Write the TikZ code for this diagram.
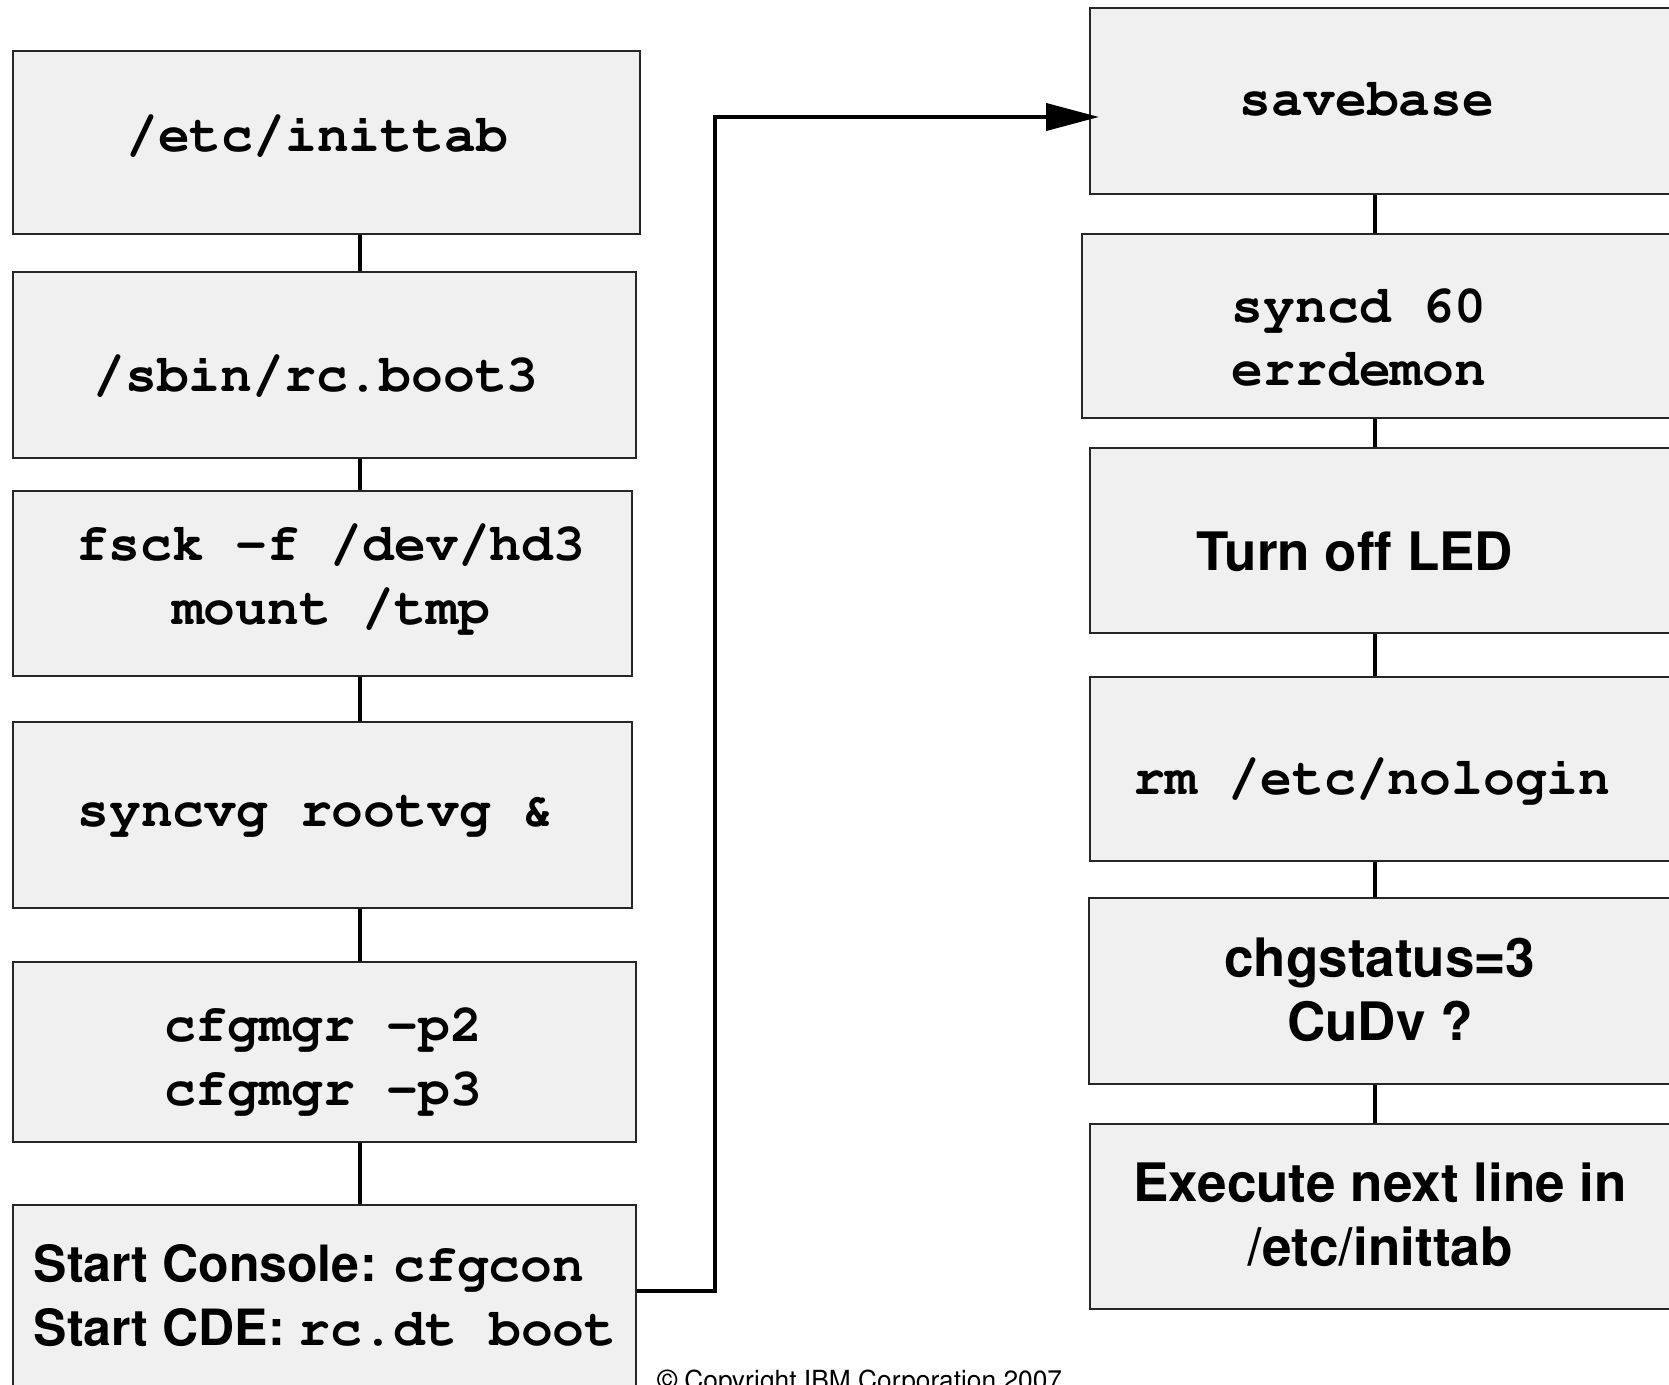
\documentclass[tikz,border=0pt]{standalone}
\usepackage[T1]{fontenc}
\usepackage{tikz}
\usetikzlibrary{arrows.meta}

\definecolor{boxgray}{HTML}{F0F0F0}
\newcommand{\cmdfont}{\fontfamily{pcr}\fontseries{b}\selectfont}
\newcommand{\headfont}{\fontfamily{phv}\fontseries{b}\selectfont}

\begin{document}
\begin{tikzpicture}[x=0.3pt,y=-0.3pt,
    box/.style 2 args={draw=black!85,line width=0.5pt,fill=boxgray,anchor=north west,
        inner sep=0pt,minimum width=#1*0.3pt,minimum height=#2*0.3pt},
    cmd/.style={font=\fontsize{15.9}{19.1}\selectfont\cmdfont,inner sep=0pt,anchor=base,align=center},
    head/.style={font=\fontsize{15.9}{19.1}\selectfont\headfont,inner sep=0pt,anchor=base,align=center},
    link/.style={line width=1pt},
    flow/.style={line width=1.2pt,-{Triangle[length=15.9pt,width=8.1pt]}}]
    \path[use as bounding box] (0,0) rectangle (1669,1384);
    \clip (0,0) rectangle (1669,1384);

    % left column
    \node[box={627}{183}] (inittab) at (12,50) {};
    \node[box={623}{186}] (rcboot) at (12,271) {};
    \node[box={619}{185}] (fsck) at (12,490) {};
    \node[box={619}{186}] (syncvg) at (12,721) {};
    \node[box={623}{180}] (cfgmgr) at (12,961) {};
    \node[box={623}{190}] (console) at (12,1204) {};

    % multi-line texts sit on the baseline of their last line
    \node[cmd] (inittab-t) at (317,152) {/etc/inittab};
    \node[cmd] (rcboot-t) at (316,392) {/sbin/rc.boot3};
    \node[cmd] (fsck-t) at (331,624) {fsck -f /dev/hd3\\mount /tmp};
    \node[cmd] (syncvg-t) at (316,826) {syncvg rootvg \&};
    \node[cmd] (cfgmgr-t) at (323,1105) {cfgmgr -p2\\cfgmgr -p3};
    \node[head,font=\fontsize{15}{19.1}\selectfont\headfont,anchor=base west,align=left] (console-t) at (33,1345)
        {Start Console: {\fontsize{15.9}{19.1}\cmdfont cfgcon}\\Start CDE: {\fontsize{15.9}{19.1}\cmdfont rc.dt boot}};

    % right column
    \node[box={640}{186}] (savebase) at (1089,7) {};
    \node[box={648}{184}] (syncd) at (1081,233) {};
    \node[box={640}{185}] (led) at (1089,447) {};
    \node[box={640}{184}] (nologin) at (1089,676) {};
    \node[box={640}{186}] (chgstatus) at (1088,897) {};
    \node[box={640}{185}] (nextline) at (1089,1123) {};

    \node[cmd] (savebase-t) at (1367,116) {savebase};
    \node[cmd] (syncd-t) at (1359,386) {syncd 60\\errdemon};
    \node[head] (led-t) at (1355,570) {Turn off LED};
    \node[cmd] (nologin-t) at (1372,794) {rm /etc/nologin};
    \node[head] (chgstatus-t) at (1380,1040) {chgstatus=3\\CuDv ?};
    \node[head] (nextline-t) at (1380,1265) {Execute next line in\\/etc/inittab};

    \node[anchor=base west,inner sep=0pt,font=\fontsize{7.9}{9.5}\selectfont\fontfamily{phv}\selectfont]
        (copyright) at (657,1389) {\textcopyright{} Copyright IBM Corporation 2007};

    % connectors
    \coordinate (lcol) at (360,0);
    \coordinate (rcol) at (1375,0);
    \foreach \a/\b in {inittab/rcboot,rcboot/fsck,fsck/syncvg,syncvg/cfgmgr,cfgmgr/console}
        \draw[link] (\a.south -| lcol) -- (\b.north -| lcol);
    \foreach \a/\b in {savebase/syncd,syncd/led,led/nologin,nologin/chgstatus,chgstatus/nextline}
        \draw[link] (\a.south -| rcol) -- (\b.north -| rcol);

    \coordinate (turn) at (715,1291);
    \coordinate (tip) at (1099,117);
    \draw[flow] (turn -| console.east) -- (turn) |- (tip);
\end{tikzpicture}
\end{document}
